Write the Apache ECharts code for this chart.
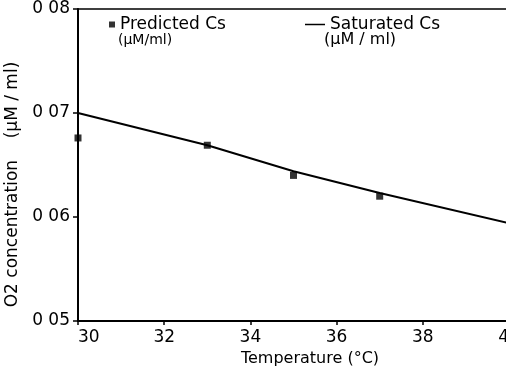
<!DOCTYPE html>
<html>
<head>
<meta charset="utf-8">
<script src="https://cdn.jsdelivr.net/npm/echarts@6/dist/echarts.min.js"></script>
<style>
  html, body { margin: 0; padding: 0; background: #fff; }
  #chart { width: 506px; height: 368px; }
</style>
</head>
<body>
<div id="chart"></div>
<script>
// temperatures (°C) and values
const predTemp = [30, 33, 35, 37];
const predCs = [0.0676, 0.0669, 0.0640, 0.0620];
const satTemp = [30, 33, 35, 37, 40];
const satCs = [0.0700, 0.0669, 0.0644, 0.0623, 0.0594];
const predUnit = '(\u00b5M/ml)';
const satUnit = '(\u00b5M / ml)';

const font = 'DejaVu Sans';

const myChart = echarts.init(document.getElementById('chart'));

const option = {
  backgroundColor: '#fff',
  animation: false,
  grid: {
    left: 78, right: -3, top: 9, bottom: 47,
    outerBoundsMode: 'none',
    containLabel: false,
    show: true, borderColor: '#000', borderWidth: 1.5
  },
  legend: [{
    data: ['Predicted Cs'],
    left: 104, top: 11,
    icon: 'rect', itemWidth: 6, itemHeight: 6,
    textStyle: { fontFamily: font, fontSize: 17, color: '#000' }
  }, {
    data: ['Saturated Cs'],
    left: 300, top: 11,
    icon: 'rect', itemWidth: 20, itemHeight: 1.5,
    textStyle: { fontFamily: font, fontSize: 17, color: '#000' }
  }],
  graphic: [
    { type: 'text', left: 118, top: 33, style: { text: predUnit, font: '14px ' + font, fill: '#000' } },
    { type: 'text', left: 324, top: 32, style: { text: satUnit, font: '16px ' + font, fill: '#000' } }
  ],
  xAxis: {
    type: 'value', min: 30, max: 40, interval: 2,
    name: 'Temperature (\u00b0C)', nameLocation: 'middle', nameGap: 28,
    nameTextStyle: { fontFamily: font, fontSize: 16, color: '#000', padding: [0, 0, 0, 33] },
    axisLine: { lineStyle: { color: '#000', width: 2 } },
    axisTick: { length: 4, lineStyle: { color: '#000', width: 1.5 } },
    axisLabel: { fontFamily: font, fontSize: 17, color: '#000', margin: 8, alignMinLabel: 'left' },
    splitLine: { show: false }
  },
  yAxis: {
    type: 'value', min: 0.05, max: 0.08, interval: 0.01,
    name: 'O2 concentration    (\u00b5M / ml)', nameLocation: 'middle', nameGap: 57, nameRotate: 90,
    nameTextStyle: { fontFamily: font, fontSize: 17, color: '#000', padding: [0, 39, 0, 0] },
    axisLine: { lineStyle: { color: '#000', width: 2 } },
    axisTick: { length: 5, lineStyle: { color: '#000', width: 1.5 } },
    axisLabel: {
      fontFamily: font, fontSize: 17, color: '#000', margin: 8,
      formatter: v => '0 ' + v.toFixed(2).slice(2)
    },
    splitLine: { show: false }
  },
  series: [{
    name: 'Predicted Cs',
    type: 'scatter',
    symbol: 'rect', symbolSize: 7,
    itemStyle: { color: '#000' },
    data: predTemp.map((t, i) => [t, predCs[i]]),
    z: 3
  }, {
    name: 'Saturated Cs',
    type: 'line',
    showSymbol: false, symbol: 'none',
    lineStyle: { color: '#000', width: 2 },
    itemStyle: { color: '#000' },
    data: satTemp.map((t, i) => [t, satCs[i]])
  }]
};

myChart.setOption(option);
</script>
</body>
</html>
